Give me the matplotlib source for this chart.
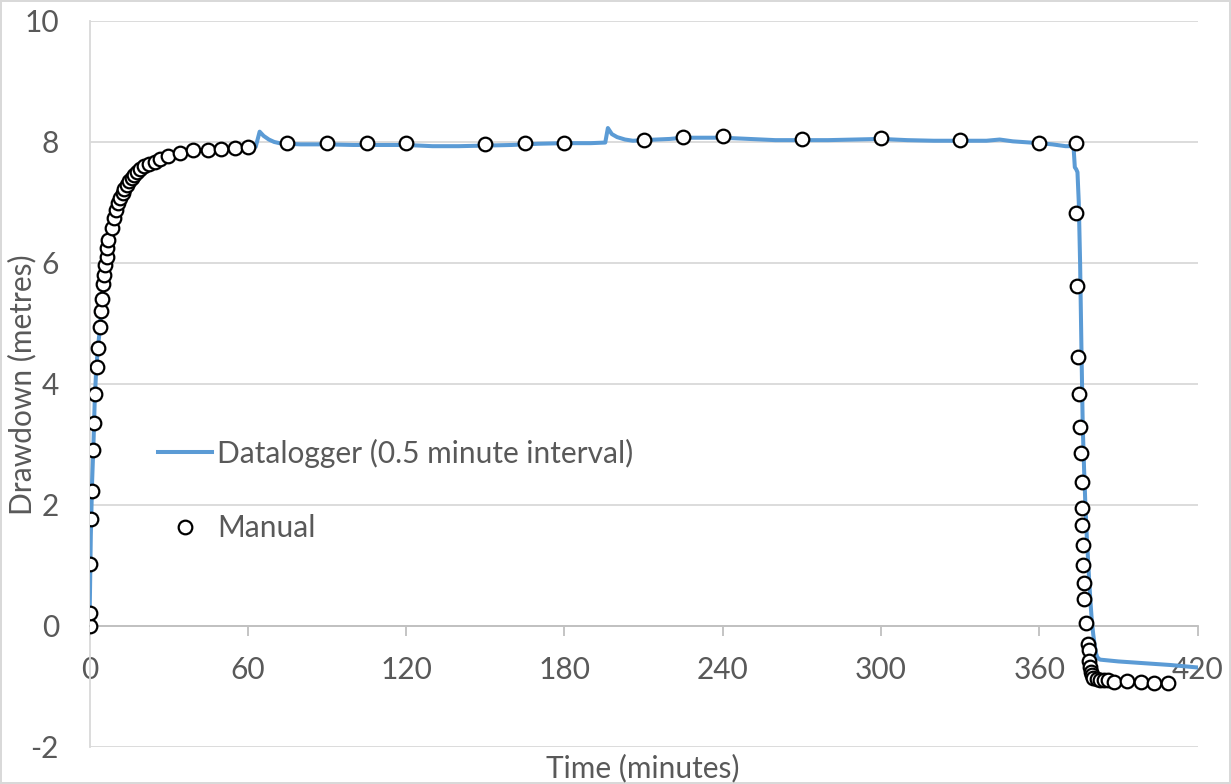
import matplotlib
matplotlib.use("Agg")
import matplotlib.pyplot as plt

plt.rcParams['font.family'] = ['Lato', 'DejaVu Sans']
plt.rcParams['axes.unicode_minus'] = False

# datalogger readings (minutes, metres)
dl_time = [0, 0.5, 1, 1.5, 2, 2.5, 3, 4, 5, 6, 7, 8, 9, 10, 12, 14, 16, 18, 20,
           25, 30, 35, 40, 45, 50, 55, 60, 63, 64.5, 66, 68, 70, 72, 75, 80, 90,
           100, 110, 120, 130, 140, 150, 160, 170, 180, 190, 195.5, 196.5, 198,
           200, 203, 206, 210, 220, 225, 230, 240, 250, 260, 270, 280, 290, 300,
           310, 320, 330, 340, 345, 350, 360, 365, 370, 373, 373.5, 374, 374.5,
           375, 375.5, 376, 376.5, 377, 377.5, 378, 378.5, 379, 379.5, 380,
           380.5, 381, 381.5, 382, 383, 390, 400, 410, 420]
dl_draw = [0, 1.5, 2.4, 3.0, 3.75, 4.2, 4.5, 4.95, 5.6, 5.98, 6.33, 6.52, 6.68,
           6.86, 7.1, 7.28, 7.4, 7.5, 7.57, 7.68, 7.76, 7.81, 7.85, 7.87, 7.88,
           7.89, 7.91, 7.92, 8.17, 8.1, 8.04, 8.0, 7.98, 7.97, 7.96, 7.96, 7.95,
           7.95, 7.95, 7.93, 7.93, 7.94, 7.95, 7.97, 7.98, 7.98, 7.99, 8.23,
           8.13, 8.08, 8.04, 8.02, 8.03, 8.05, 8.07, 8.07, 8.07, 8.05, 8.03,
           8.03, 8.03, 8.04, 8.05, 8.03, 8.02, 8.02, 8.02, 8.04, 8.01, 7.98,
           7.96, 7.93, 7.93, 7.58, 7.55, 7.5, 7.0, 6.0, 4.6, 3.3, 2.6, 2.0, 1.5,
           1.1, 0.7, 0.35, 0.05, -0.15, -0.32, -0.45, -0.52, -0.56, -0.59,
           -0.62, -0.65, -0.69]

# manual readings (minutes, metres)
man_time = [0, 0, 0.2, 0.55, 0.85, 1.45, 1.7, 2.1, 2.7, 3.35, 4.0, 4.25, 4.6,
            5.0, 5.5, 5.9, 6.5, 6.8, 7.1, 8.4, 9.4, 10.0, 10.9, 11.6, 12.6,
            13.2, 14.1, 15.1, 16.0, 17.0, 17.9, 19.1, 20.8, 22.7, 24.8, 26.7,
            29.6, 34.3, 39.3, 45, 50, 55, 60, 75, 90, 105, 120, 150, 165, 180,
            210, 225, 240, 270, 300, 330, 360, 373.8, 374.0, 374.2, 374.8,
            375.2, 375.5, 375.7, 376.1, 376.1, 376.3, 376.5, 376.7, 376.8,
            377.1, 377.7, 378.4, 378.8, 379.0, 379.4, 379.6, 379.9, 380.5,
            381.8, 383.0, 384.6, 386.2, 388.5, 393.4, 398.7, 403.5, 408.7]
man_draw = [0, 0.21, 1.02, 1.76, 2.23, 2.9, 3.36, 3.83, 4.28, 4.59, 4.94, 5.2,
            5.40, 5.65, 5.80, 5.96, 6.10, 6.24, 6.38, 6.57, 6.74, 6.88, 6.99,
            7.07, 7.15, 7.22, 7.29, 7.36, 7.41, 7.45, 7.50, 7.55, 7.60, 7.64,
            7.67, 7.71, 7.77, 7.82, 7.86, 7.87, 7.89, 7.90, 7.92, 7.99, 7.99,
            7.98, 7.99, 7.97, 7.98, 7.99, 8.04, 8.08, 8.10, 8.05, 8.06, 8.03,
            7.98, 7.98, 6.83, 5.61, 4.45, 3.83, 3.29, 2.85, 2.38, 1.94, 1.67,
            1.33, 1.00, 0.71, 0.44, 0.04, -0.30, -0.40, -0.58, -0.68, -0.76,
            -0.82, -0.86, -0.88, -0.89, -0.89, -0.89, -0.93, -0.91, -0.93,
            -0.94, -0.94]

x_ticks = [0, 60, 120, 180, 240, 300, 360, 420]
y_ticks = [-2, 0, 2, 4, 6, 8, 10]

grey = '#595959'
fs = 21.5

fig = plt.figure(figsize=(12.31, 7.84), dpi=100)
fig.patch.set_edgecolor('#d9d9d9')
fig.patch.set_linewidth(1.5)
ax = fig.add_axes([89.5 / 1231, 1 - 746.7 / 784, 1108 / 1231, 725.7 / 784])

ax.plot(dl_time, dl_draw, color='#5B9BD5', lw=2.9, zorder=3,
        label='Datalogger (0.5 minute interval)')
ax.plot(man_time, man_draw, 'o', ms=9.8, mfc='white', mec='black', mew=1.6,
        zorder=4, label='Manual')

ax.set_xlim(0, 420)
ax.set_ylim(-2, 10)
ax.set_xticks(x_ticks)
ax.set_yticks(y_ticks)
ax.grid(axis='y', color='#d9d9d9', lw=1.3, zorder=0)
ax.set_axisbelow(True)

for s in ['top', 'right']:
    ax.spines[s].set_visible(False)
ax.spines['left'].set_color('#d9d9d9')
ax.spines['left'].set_linewidth(1.3)
ax.spines['bottom'].set_position(('data', 0))
ax.spines['bottom'].set_color('#bfbfbf')
ax.spines['bottom'].set_linewidth(1.3)

ax.tick_params(axis='x', direction='out', length=7, width=1.3, color='#bfbfbf',
               labelcolor=grey, labelsize=fs, pad=15)
ax.tick_params(axis='y', length=0, labelcolor=grey, labelsize=fs, pad=22)

fig.text(643 / 1231, 1 - 768 / 784, 'Time (minutes)', color=grey, fontsize=fs,
         ha='center', va='center')
fig.text(22 / 1231, 1 - 385 / 784, 'Drawdown (metres)', color=grey,
         fontsize=fs, ha='center', va='center', rotation=90)

ax.legend(loc='center left', bbox_to_anchor=(158 / 1231, 1 - 490.5 / 784),
          bbox_transform=fig.transFigure, frameon=False, fontsize=fs,
          labelcolor=grey, handlelength=1.8, handletextpad=0.17,
          labelspacing=1.56, borderpad=0, borderaxespad=0)

fig.savefig('out.png', dpi=100, edgecolor=fig.get_edgecolor())
